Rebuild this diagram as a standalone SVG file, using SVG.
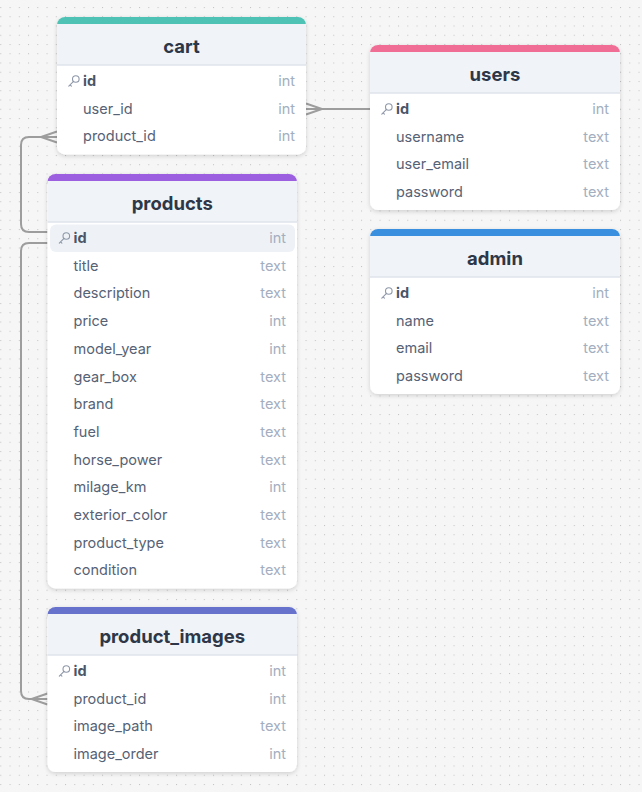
<svg xmlns="http://www.w3.org/2000/svg" width="642" height="792" viewBox="0 0 642 792">
<defs>
<pattern id="dots" x="0.3" y="7" width="9.25" height="9.25" patternUnits="userSpaceOnUse">
<rect x="0" y="0" width="1" height="1" fill="#c2c2c2"/>
</pattern>
<filter id="shadow" x="-10%" y="-10%" width="120%" height="125%">
<feDropShadow dx="0" dy="1.5" stdDeviation="2" flood-color="#000" flood-opacity="0.16"/>
</filter>
<symbol id="key" viewBox="0 0 12 12" overflow="visible">
<circle cx="7.8" cy="4" r="3.3" fill="none" stroke="#8e98a8" stroke-width="1.1"/>
<path d="M5.5,6.4 L0.8,11.1 M2.1,9.8 L3.4,11.1" fill="none" stroke="#8e98a8" stroke-width="1.1" stroke-linecap="round"/>
</symbol>
</defs>
<style>
text{font-family:"Inter","Liberation Sans",sans-serif}
.card{fill:#ffffff;filter:url(#shadow)}
.hdr{fill:#f0f3f7}
.hline{stroke:#dfe5ec;stroke-width:1.5}
.title{font-size:18.5px;font-weight:700;fill:#2d3748;text-anchor:middle}
.name{font-size:14.5px;fill:#566275}
.pk{font-size:14.5px;font-weight:700;fill:#4a5568}
.type{font-size:14.5px;fill:#a3aec0;text-anchor:end}
.conn{fill:none;stroke:#9d9d9d;stroke-width:2}
.hl{fill:#eef2f7}
</style>
<rect width="642" height="792" fill="#f6f6f6"/>
<rect width="642" height="792" fill="url(#dots)"/>

<g id="connectors">
<path class="conn" d="M306,109 H370 M306,103.5 L322,109 L306,114.5"/>
<path class="conn" d="M57,137 H29 Q21,137 21,145 V224 Q21,232 29,232 H47.5 M57,131.5 L41,137 L57,142.5"/>
<path class="conn" d="M47.5,243 H29 Q21,243 21,251 V691 Q21,699 29,699 H47.5 M47.5,693.5 L31.5,699 L47.5,704.5"/>
</g>

<g id="cart" transform="translate(57,17)">
<rect class="card" width="249" height="137.4" rx="8"/>
<rect width="249" height="16" rx="8" fill="#4ec2b4"/>
<rect class="hdr" y="7" width="249" height="41"/>
<line class="hline" x1="0" y1="48" x2="249" y2="48"/>
<text class="title" x="124.5" y="35.5">cart</text>
<use href="#key" x="11" y="58" width="12" height="12"/>
<text class="pk" x="26" y="69">id</text><text class="type" x="238" y="69">int</text>
<text class="name" x="26" y="96.7">user_id</text><text class="type" x="238" y="96.7">int</text>
<text class="name" x="26" y="124.4">product_id</text><text class="type" x="238" y="124.4">int</text>
</g>

<g id="users" transform="translate(370,45)">
<rect class="card" width="250" height="165.1" rx="8"/>
<rect width="250" height="16" rx="8" fill="#f06e96"/>
<rect class="hdr" y="7" width="250" height="41"/>
<line class="hline" x1="0" y1="48" x2="250" y2="48"/>
<text class="title" x="125" y="35.5">users</text>
<use href="#key" x="11" y="58" width="12" height="12"/>
<text class="pk" x="26" y="69">id</text><text class="type" x="239" y="69">int</text>
<text class="name" x="26" y="96.7">username</text><text class="type" x="239" y="96.7">text</text>
<text class="name" x="26" y="124.4">user_email</text><text class="type" x="239" y="124.4">text</text>
<text class="name" x="26" y="152.1">password</text><text class="type" x="239" y="152.1">text</text>
</g>

<g id="products" transform="translate(47.5,174)">
<rect class="card" width="249.5" height="414.4" rx="8"/>
<rect width="249.5" height="16" rx="8" fill="#9b5fe0"/>
<rect class="hdr" y="7" width="249.5" height="41"/>
<line class="hline" x1="0" y1="48" x2="249.5" y2="48"/>
<text class="title" x="124.75" y="35.5">products</text>
<rect class="hl" x="2.5" y="50.5" width="245" height="27.5" rx="6"/>
<use href="#key" x="11" y="58" width="12" height="12"/>
<text class="pk" x="26" y="69">id</text><text class="type" x="238.5" y="69">int</text>
<text class="name" x="26" y="96.7">title</text><text class="type" x="238.5" y="96.7">text</text>
<text class="name" x="26" y="124.4">description</text><text class="type" x="238.5" y="124.4">text</text>
<text class="name" x="26" y="152.1">price</text><text class="type" x="238.5" y="152.1">int</text>
<text class="name" x="26" y="179.8">model_year</text><text class="type" x="238.5" y="179.8">int</text>
<text class="name" x="26" y="207.5">gear_box</text><text class="type" x="238.5" y="207.5">text</text>
<text class="name" x="26" y="235.2">brand</text><text class="type" x="238.5" y="235.2">text</text>
<text class="name" x="26" y="262.9">fuel</text><text class="type" x="238.5" y="262.9">text</text>
<text class="name" x="26" y="290.6">horse_power</text><text class="type" x="238.5" y="290.6">text</text>
<text class="name" x="26" y="318.3">milage_km</text><text class="type" x="238.5" y="318.3">int</text>
<text class="name" x="26" y="346">exterior_color</text><text class="type" x="238.5" y="346">text</text>
<text class="name" x="26" y="373.7">product_type</text><text class="type" x="238.5" y="373.7">text</text>
<text class="name" x="26" y="401.4">condition</text><text class="type" x="238.5" y="401.4">text</text>
</g>

<g id="admin" transform="translate(370,229)">
<rect class="card" width="250" height="165.1" rx="8"/>
<rect width="250" height="16" rx="8" fill="#3b8fdf"/>
<rect class="hdr" y="7" width="250" height="41"/>
<line class="hline" x1="0" y1="48" x2="250" y2="48"/>
<text class="title" x="125" y="35.5">admin</text>
<use href="#key" x="11" y="58" width="12" height="12"/>
<text class="pk" x="26" y="69">id</text><text class="type" x="239" y="69">int</text>
<text class="name" x="26" y="96.7">name</text><text class="type" x="239" y="96.7">text</text>
<text class="name" x="26" y="124.4">email</text><text class="type" x="239" y="124.4">text</text>
<text class="name" x="26" y="152.1">password</text><text class="type" x="239" y="152.1">text</text>
</g>

<g id="product_images" transform="translate(47.5,607)">
<rect class="card" width="249.5" height="165.1" rx="8"/>
<rect width="249.5" height="16" rx="8" fill="#6672cc"/>
<rect class="hdr" y="7" width="249.5" height="41"/>
<line class="hline" x1="0" y1="48" x2="249.5" y2="48"/>
<text class="title" x="124.75" y="35.5">product_images</text>
<use href="#key" x="11" y="58" width="12" height="12"/>
<text class="pk" x="26" y="69">id</text><text class="type" x="238.5" y="69">int</text>
<text class="name" x="26" y="96.7">product_id</text><text class="type" x="238.5" y="96.7">int</text>
<text class="name" x="26" y="124.4">image_path</text><text class="type" x="238.5" y="124.4">text</text>
<text class="name" x="26" y="152.1">image_order</text><text class="type" x="238.5" y="152.1">int</text>
</g>
</svg>
